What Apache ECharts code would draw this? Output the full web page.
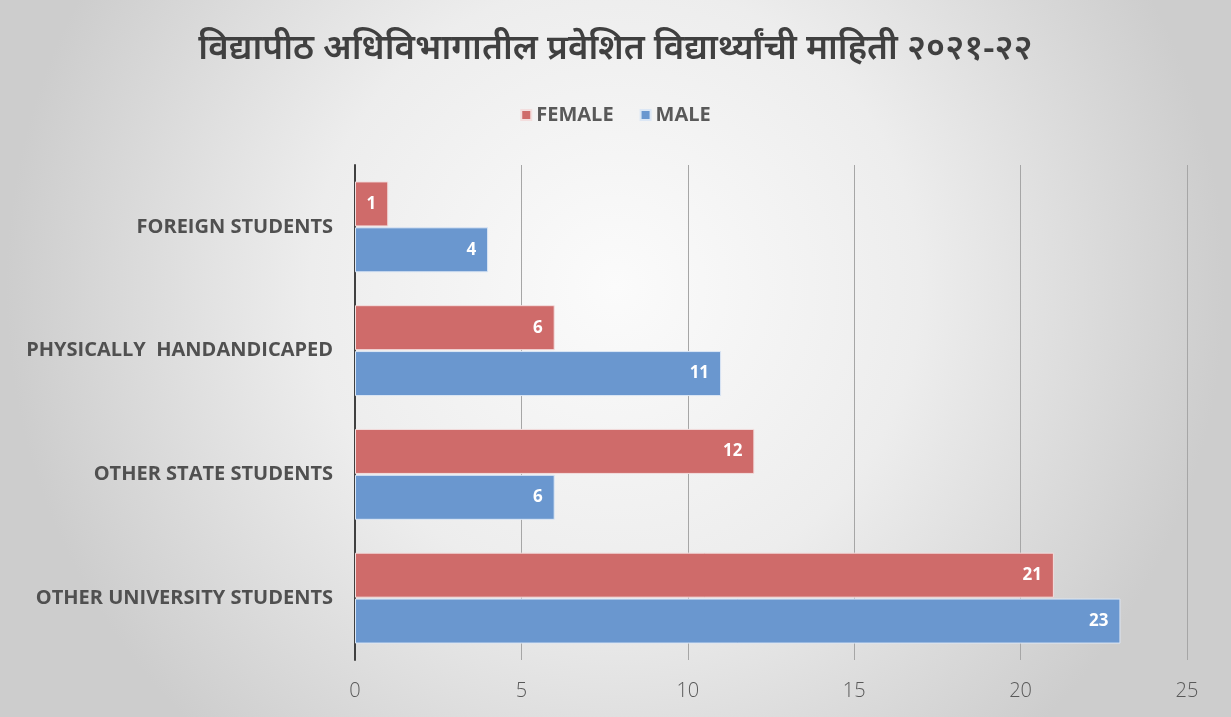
<!DOCTYPE html>
<html>
<head>
<meta charset="utf-8">
<script src="https://cdn.jsdelivr.net/npm/echarts@6/dist/echarts.min.js"></script>
<style>
  html, body { margin: 0; padding: 0; }
  #chart { width: 1231px; height: 717px; }
</style>
</head>
<body>
<div id="chart"></div>
<script>
var categories = ['OTHER UNIVERSITY STUDENTS', 'OTHER STATE STUDENTS', 'PHYSICALLY  HANDANDICAPED', 'FOREIGN STUDENTS'];
var femaleData = [21, 12, 6, 1];
var maleData = [23, 6, 11, 4];
var xTicks = [0, 5, 10, 15, 20, 25];

var femaleColor = '#cf6b6a';
var maleColor = '#6a97cf';

var option = {
    backgroundColor: {
        type: 'radial', x: 0.5, y: 0.4, r: 0.85,
        colorStops: [
            {offset: 0, color: '#fbfbfb'},
            {offset: 0.5, color: '#ededed'},
            {offset: 1, color: '#cdcdcd'}
        ]
    },
    title: {
        text: 'विद्यापीठ अधिविभागातील प्रवेशित विद्यार्थ्यांची माहिती २०२१-२२',
        left: 'center',
        top: 27,
        textStyle: {fontSize: 35, fontWeight: 600, color: '#404040', fontFamily: 'Noto Sans, sans-serif'}
    },
    legend: {
        data: ['FEMALE', 'MALE'],
        top: 100,
        left: 'center',
        itemWidth: 10,
        itemHeight: 10,
        itemGap: 26,
        icon: 'rect',
        textStyle: {fontSize: 20, fontWeight: 'bold', color: '#595959', fontFamily: 'Open Sans'}
    },
    grid: {
        left: 355,
        right: 44,
        top: 165,
        bottom: 57,
        containLabel: false
    },
    xAxis: {
        type: 'value',
        min: 0,
        max: 25,
        interval: 5,
        axisLine: {show: false},
        axisTick: {show: false},
        splitLine: {lineStyle: {color: '#a6a6a6', width: 1}},
        axisLabel: {
            fontSize: 20, color: '#595959', margin: 21, fontFamily: 'Open Sans', fontWeight: 300,
            formatter: function (v) { return xTicks.indexOf(v) >= 0 ? String(v) : ''; }
        }
    },
    yAxis: {
        type: 'category',
        data: categories,
        axisLine: {show: true, lineStyle: {color: '#404040', width: 2}},
        axisTick: {show: false},
        axisLabel: {fontSize: 20, fontWeight: 'bold', color: '#505050', margin: 22, fontFamily: 'Open Sans'}
    },
    series: [
        {
            name: 'FEMALE',
            type: 'bar',
            data: femaleData,
            barWidth: 45,
            barGap: '2%',
            itemStyle: {color: femaleColor, borderColor: '#f3dede', borderWidth: 1},
            label: {show: true, position: 'insideRight', distance: 12, color: '#fff', fontWeight: 'bold', fontSize: 17, fontFamily: 'Open Sans'}
        },
        {
            name: 'MALE',
            type: 'bar',
            data: maleData,
            barWidth: 45,
            barGap: '2%',
            itemStyle: {color: maleColor, borderColor: '#dce7f5', borderWidth: 1},
            label: {show: true, position: 'insideRight', distance: 12, color: '#fff', fontWeight: 'bold', fontSize: 17, fontFamily: 'Open Sans'}
        }
    ]
};

var myChart = echarts.init(document.getElementById('chart'));
myChart.setOption(option);
</script>
</body>
</html>
